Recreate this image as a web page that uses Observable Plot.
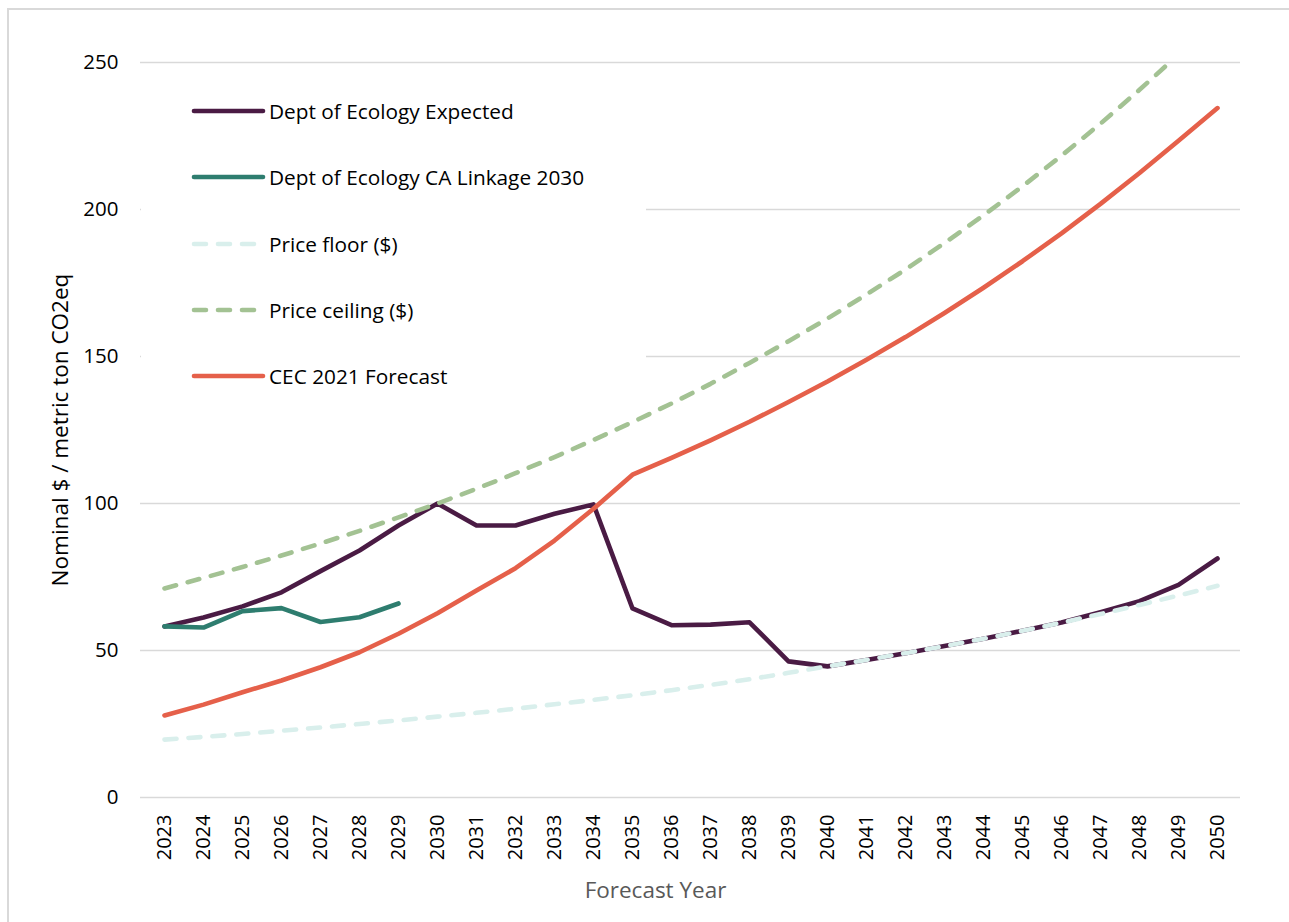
<!DOCTYPE html>
<html>
<head>
<meta charset="utf-8">
<script src="https://cdn.jsdelivr.net/npm/d3@7"></script>
<script src="https://cdn.jsdelivr.net/npm/@observablehq/plot@0.6"></script>
<style>
  html, body { margin: 0; padding: 0; background: #fff; }
  #wrap { position: relative; width: 1289px; height: 922px; font-family: "Open Sans", sans-serif; }
  #frame { position: absolute; left: 7px; top: 8px; right: -10px; bottom: -10px; border-left: 2px solid #d9d9d9; border-top: 2px solid #d9d9d9; pointer-events: none; }
  #legend { position: absolute; left: 141px; top: 78px; width: 505px; height: 320px; background: #fff; }
  .item { position: absolute; left: 50px; height: 30px; display: flex; align-items: center; font-size: 20.8px; color: #000; white-space: nowrap; }
  .item svg { margin-right: 2px; }
</style>
</head>
<body>
<div id="wrap"></div>
<script>
const years = [2023,2024,2025,2026,2027,2028,2029,2030,2031,2032,2033,2034,2035,2036,2037,2038,2039,2040,2041,2042,2043,2044,2045,2046,2047,2048,2049,2050];
const expected = [58.2,61.2,65.0,69.8,77.0,84.0,92.5,100.0,92.5,92.5,96.5,99.7,64.3,58.6,58.8,59.6,46.3,44.6,46.8,49.1,51.5,54.0,56.7,59.5,63.0,66.8,72.3,81.3];
const linkageYears = [2023,2024,2025,2026,2027,2028,2029];
const linkage = [58.2,57.8,63.4,64.4,59.7,61.3,66.0];
const priceFloor = [19.7,20.6,21.6,22.7,23.8,25.0,26.2,27.5,28.8,30.2,31.7,33.2,34.8,36.5,38.3,40.2,42.4,44.6,46.8,49.1,51.5,54.0,56.7,59.5,62.4,65.5,68.7,72.0];
const priceCeiling = [71.1,74.7,78.4,82.3,86.4,90.7,95.3,100.0,105.0,110.3,115.8,121.6,127.7,134.0,140.7,147.8,155.2,162.9,171.1,179.6,188.6,198.0,207.9,218.3,229.2,240.7,252.7,265.4];
const cec = [27.9,31.6,35.8,39.8,44.3,49.4,55.7,62.7,70.4,78.0,87.4,98.2,109.8,115.5,121.5,127.8,134.5,141.5,148.9,156.6,164.8,173.4,182.4,191.9,201.9,212.4,223.4,234.5];
const yTicks = [0,50,100,150,200,250];

const seriesNames = ["Dept of Ecology Expected","Dept of Ecology CA Linkage 2030","Price floor ($)","Price ceiling ($)","CEC 2021 Forecast"];
const seriesColors = ["#4a1b44","#2e7d6f","#d9efec","#a3c293","#e5604a"];
const seriesDash = [null,null,"12,12","12,12",null];

const sets = [
  {x: years, y: expected},
  {x: linkageYears, y: linkage},
  {x: years, y: priceFloor},
  {x: years, y: priceCeiling},
  {x: years, y: cec}
];

const rows = [];
sets.forEach((s, i) => s.x.forEach((yr, j) => rows.push({year: yr, value: s.y[j], series: seriesNames[i]})));

const lineMarks = seriesNames.map((name, i) =>
  Plot.line(rows.filter(r => r.series === name), {
    x: "year", y: "value",
    stroke: seriesColors[i], strokeWidth: 4.6,
    strokeDasharray: seriesDash[i] || undefined,
    strokeLinecap: "round", strokeLinejoin: "round",
    clip: true
  })
);

const chart = Plot.plot({
  width: 1289,
  height: 922,
  marginLeft: 140,
  marginRight: 49,
  marginTop: 62,
  marginBottom: 125,
  style: {fontFamily: "Open Sans, sans-serif", background: "transparent", overflow: "visible"},
  x: {type: "point", domain: years, padding: 0.5, label: null},
  y: {domain: [0, 250], label: null},
  marks: [
    Plot.ruleY(yTicks, {stroke: "#d9d9d9", strokeWidth: 1.6}),
    Plot.axisY({ticks: yTicks, tickSize: 0, tickPadding: 22, fontSize: 20.5, fill: "#000", label: null}),
    Plot.axisX({tickSize: 0, tickPadding: 17, tickRotate: -90, fontSize: 20, fontFamily: "'Liberation Sans Narrow', 'Open Sans', sans-serif", fill: "#000", tickFormat: d => String(d), label: null}),
    Plot.text(["Nominal $ / metric ton CO2eq"], {frameAnchor: "left", textAnchor: "middle", rotate: -90, dx: -80, fontSize: 22.5, fill: "#000"}),
    Plot.text(["Forecast Year"], {frameAnchor: "bottom", dy: 100, dx: -35, fontSize: 22.5, fill: "#595959"}),
    ...lineMarks
  ]
});

const wrap = document.getElementById("wrap");
wrap.appendChild(chart);
chart.style.position = "absolute";
chart.style.left = "0px";
chart.style.top = "0px";

const legend = document.createElement("div");
legend.id = "legend";
seriesNames.forEach((name, i) => {
  const item = document.createElement("div");
  item.className = "item";
  item.style.top = (18 + i * 66.3) + "px";
  const dash = seriesDash[i] ? `stroke-dasharray="12,12"` : "";
  item.innerHTML = `<svg width="76" height="10"><line x1="3" y1="5" x2="72" y2="5" stroke="${seriesColors[i]}" stroke-width="4.6" stroke-linecap="round" ${dash}/></svg><span>${name}</span>`;
  legend.appendChild(item);
});
wrap.appendChild(legend);

const frame = document.createElement("div");
frame.id = "frame";
wrap.appendChild(frame);
</script>
</body>
</html>
